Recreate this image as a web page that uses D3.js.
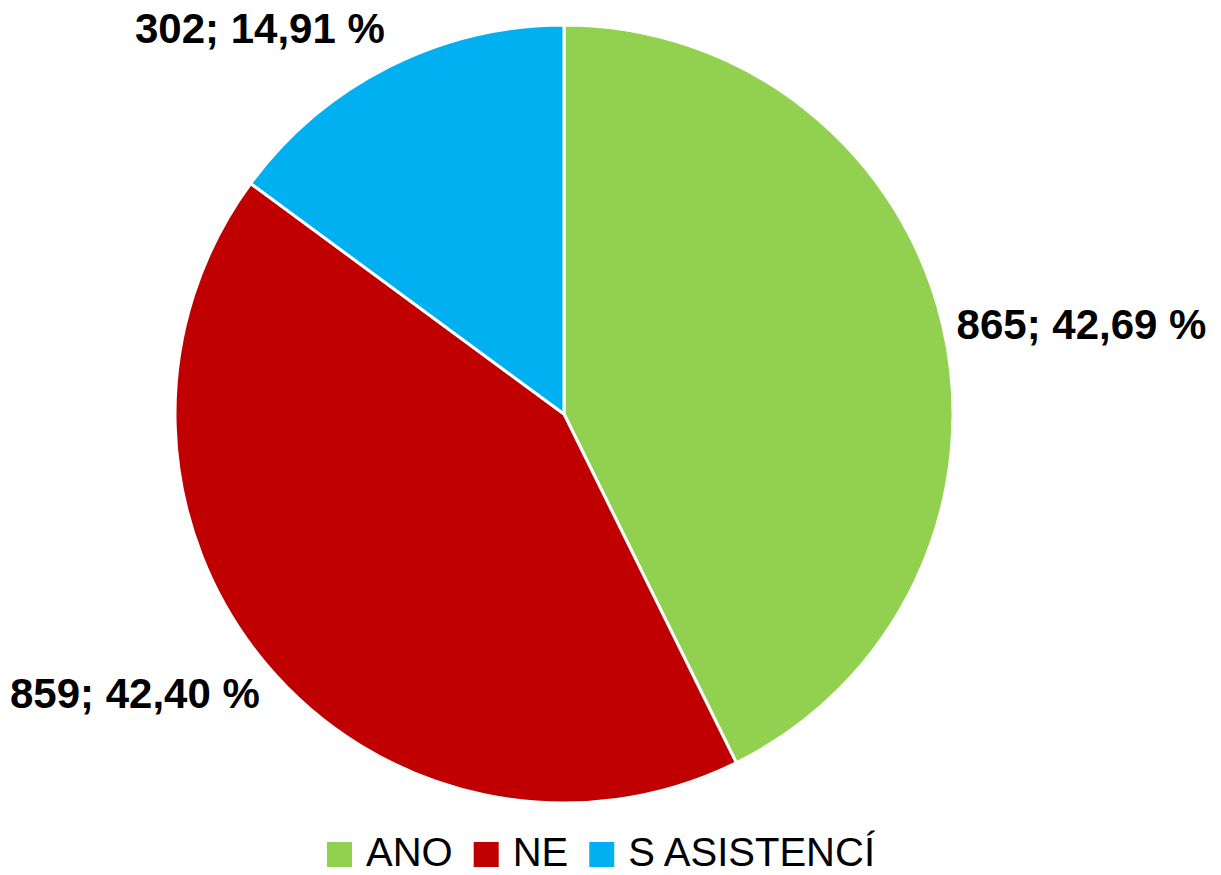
<!DOCTYPE html>
<html>
<head>
<meta charset="utf-8">
<script src="https://cdn.jsdelivr.net/npm/d3@7"></script>
<style>
  body { margin: 0; background: #ffffff; }
  svg text { font-family: "Liberation Sans", Arial, sans-serif; }
</style>
</head>
<body>
<div id="chart"></div>
<script>
////////////////////////////////////////////////////////////////////////
// Data

let categories = ["ANO", "NE", "S ASISTENCÍ"];
let counts = [865, 859, 302];
let percentLabels = ["42,69 %", "42,40 %", "14,91 %"];
let colors = ["#92d050", "#c00000", "#00b0f0"];

// Layout
let width = 1221;
let height = 875;
let cx = 564;
let cy = 414;
let radius = 389;

let svg = d3.select("#chart")
  .append("svg")
  .attr("width", width)
  .attr("height", height);

let pie = d3.pie().sort(null).value(d => d);
let arcs = pie(counts);

let arc = d3.arc().innerRadius(0).outerRadius(radius);

let g = svg.append("g").attr("transform", "translate(" + cx + "," + cy + ")");

g.selectAll("path")
  .data(arcs)
  .enter()
  .append("path")
  .attr("d", arc)
  .attr("fill", (d, i) => colors[i])
  .attr("stroke", "#ffffff")
  .attr("stroke-width", 3)
  .attr("stroke-linejoin", "round");

// data labels, placed just outside the pie edge
let capH = 31;
g.selectAll("text.label")
  .data(arcs)
  .enter()
  .append("text")
  .attr("class", "label")
  .attr("font-size", 42)
  .attr("font-weight", "bold")
  .attr("fill", "#000")
  .attr("text-anchor", d => {
    let a = (d.startAngle + d.endAngle) / 2;
    return Math.sin(a) > 0 ? "start" : "end";
  })
  .attr("x", d => {
    let a = (d.startAngle + d.endAngle) / 2;
    let px = (radius + 8) * Math.sin(a);
    let off = Math.abs(Math.cos(a)) < 0.5 ? 6 : 0;
    return px + (Math.sin(a) > 0 ? off : -off);
  })
  .attr("y", d => {
    let a = (d.startAngle + d.endAngle) / 2;
    let py = -(radius + 8) * Math.cos(a);
    let shift = Math.abs(Math.cos(a)) > 0.5 ? -Math.cos(a) * 36 : 0;
    return py + shift + capH / 2;
  })
  .text((d, i) => counts[i] + "; " + percentLabels[i]);

// legend
let legend = svg.append("g").attr("class", "legend");
let lx = 327;
categories.forEach(function(c, i) {
  let item = legend.append("g");
  item.append("rect")
    .attr("x", lx)
    .attr("y", 842)
    .attr("width", 25)
    .attr("height", 25)
    .attr("fill", colors[i]);
  let t = item.append("text")
    .attr("x", lx + 39)
    .attr("y", 866)
    .attr("font-size", 40)
    .attr("fill", "#000")
    .text(c);
  lx += 39 + t.node().getComputedTextLength() + 21;
});
</script>
</body>
</html>
